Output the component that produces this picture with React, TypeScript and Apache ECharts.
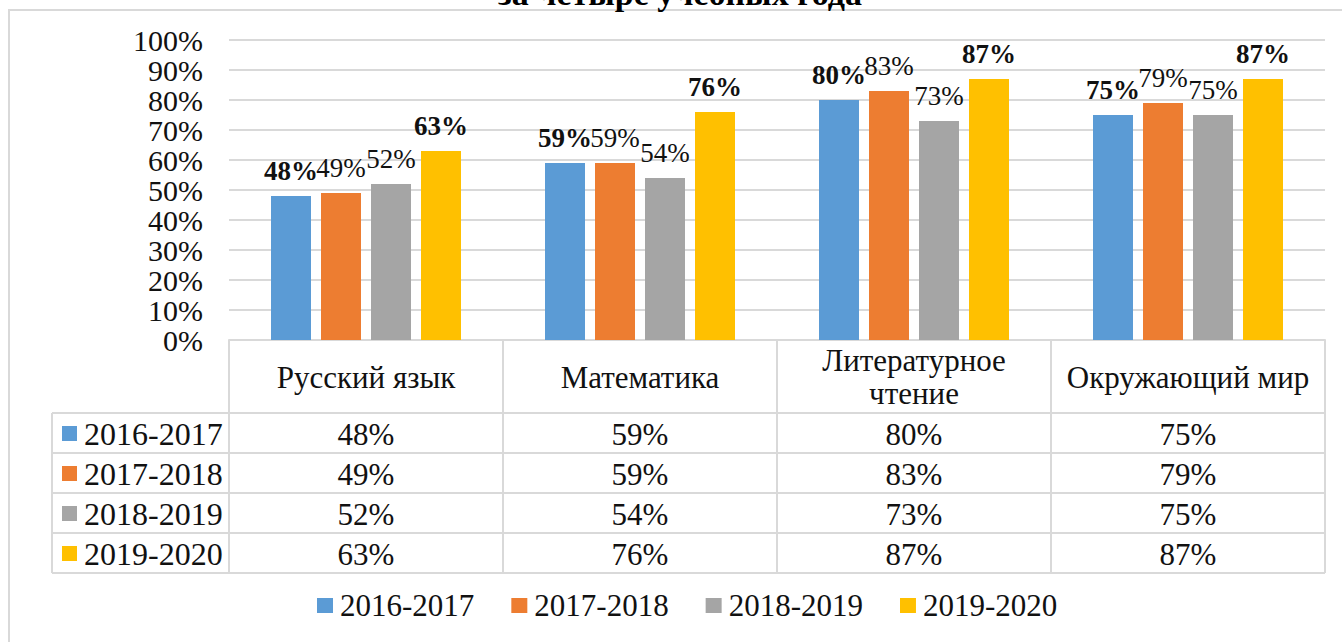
import React, { useEffect, useRef } from "react";
import * as echarts from "echarts";

const categories = ["Русский язык", "Математика", "Литературное чтение", "Окружающий мир"];
const seriesNames = ["2016-2017", "2017-2018", "2018-2019", "2019-2020"];
const s2016 = [48, 59, 80, 75];
const s2017 = [49, 59, 83, 79];
const s2018 = [52, 54, 73, 75];
const s2019 = [63, 76, 87, 87];
const colors = ["#5B9BD5", "#ED7D31", "#A5A5A5", "#FFC000"];
const yTicks = { min: 0, max: 100, interval: 10 };
const titleText = "за четыре учебных года";

const W = 1342;
const H = 642;
const FONT = "Liberation Serif";
const GRID_LEFT = 229;
const GRID_RIGHT = 1325;
const GRID_TOP = 40;
const GRID_BOTTOM = 340;
const TABLE_LEFT = 52;
const ROW_LINES = [413, 453, 493, 533, 573];
const LINE_COLOR = "#D9D9D9";

export default function App() {
  const ref = useRef<HTMLDivElement>(null);
  useEffect(() => {
    if (!ref.current) return;
    const chart = echarts.init(ref.current, undefined, { renderer: "svg" });
    const allSeries = [s2016, s2017, s2018, s2019];
    const colW = (GRID_RIGHT - GRID_LEFT) / categories.length;

    const graphics: any[] = [];
    graphics.push({
      type: "rect",
      shape: { x: 9, y: 10, width: 1400, height: 700 },
      style: { fill: "none", stroke: LINE_COLOR, lineWidth: 2 },
      silent: true,
      z: 0,
    });
    graphics.push({
      type: "text",
      x: 680,
      y: 10,
      style: {
        text: titleText,
        fontFamily: FONT,
        fontSize: 34,
        fontWeight: "bold",
        fill: "#000",
        align: "center",
        verticalAlign: "bottom",
      },
    });
    for (let i = 0; i <= categories.length; i++) {
      const x = GRID_LEFT + colW * i;
      graphics.push({
        type: "line",
        shape: { x1: x, y1: GRID_BOTTOM, x2: x, y2: ROW_LINES[ROW_LINES.length - 1] },
        style: { stroke: LINE_COLOR, lineWidth: 2 },
        silent: true,
      });
    }
    graphics.push({
      type: "line",
      shape: { x1: TABLE_LEFT, y1: ROW_LINES[0], x2: TABLE_LEFT, y2: ROW_LINES[ROW_LINES.length - 1] },
      style: { stroke: LINE_COLOR, lineWidth: 2 },
      silent: true,
    });
    ROW_LINES.forEach((y) => {
      graphics.push({
        type: "line",
        shape: { x1: TABLE_LEFT, y1: y, x2: GRID_RIGHT, y2: y },
        style: { stroke: LINE_COLOR, lineWidth: 2 },
        silent: true,
      });
    });
    seriesNames.forEach((name, r) => {
      const cy = (ROW_LINES[r] + ROW_LINES[r + 1]) / 2;
      graphics.push({
        type: "rect",
        shape: { x: 62, y: cy - 7, width: 15, height: 15 },
        style: { fill: colors[r] },
        silent: true,
      });
      graphics.push({
        type: "text",
        x: 84,
        y: cy + 1,
        style: {
          text: name,
          fontFamily: FONT,
          fontSize: 32,
          fill: "#111",
          align: "left",
          verticalAlign: "middle",
        },
      });
      allSeries[r].forEach((v, c) => {
        graphics.push({
          type: "text",
          x: GRID_LEFT + colW * (c + 0.5),
          y: cy + 1,
          style: {
            text: v + "%",
            fontFamily: FONT,
            fontSize: 31,
            fill: "#111",
            align: "center",
            verticalAlign: "middle",
          },
        });
      });
    });

    const option: any = {
      animation: false,
      textStyle: { fontFamily: FONT },
      grid: {
        left: GRID_LEFT,
        right: W - GRID_RIGHT,
        top: GRID_TOP,
        bottom: H - GRID_BOTTOM,
        containLabel: false,
      },
      legend: {
        data: seriesNames,
        bottom: 16,
        left: 312,
        icon: "rect",
        itemWidth: 16,
        itemHeight: 15,
        itemGap: 37,
        textStyle: { fontFamily: FONT, fontSize: 31, color: "#111", padding: [0, 0, 0, 2] },
      },
      xAxis: {
        type: "category",
        data: categories,
        axisLine: { show: true, lineStyle: { color: LINE_COLOR, width: 2 } },
        axisTick: { show: false },
        axisLabel: {
          interval: 0,
          margin: 37,
          verticalAlign: "middle",
          fontFamily: FONT,
          fontSize: 31,
          color: "#111",
          lineHeight: 33,
          formatter: (v: string) => (v.length > 16 ? v.replace(" ", "\n") : v),
        },
      },
      yAxis: {
        type: "value",
        min: yTicks.min,
        max: yTicks.max,
        interval: yTicks.interval,
        axisLine: { show: false },
        axisTick: { show: false },
        splitLine: { lineStyle: { color: LINE_COLOR, width: 2 } },
        axisLabel: {
          formatter: (v: number) => v + "%",
          fontFamily: FONT,
          fontSize: 30,
          lineHeight: 30,
          showMinLabel: true,
          showMaxLabel: true,
          hideOverlap: false,
          color: "#111",
          margin: 26,
        },
      },
      series: seriesNames.map((name, i) => ({
        type: "bar",
        name,
        data: allSeries[i],
        barWidth: 40,
        barGap: "25%",
        itemStyle: { color: colors[i] },
        label: {
          show: true,
          position: "top",
          distance: 12,
          formatter: "{c}%",
          fontFamily: FONT,
          fontSize: 27,
          fontWeight: i === 0 || i === 3 ? "bold" : "normal",
          color: "#111",
        },
      })),
      graphic: graphics,
    };
    chart.setOption(option);
    return () => chart.dispose();
  }, []);
  return (
    <div
      ref={ref}
      style={{ position: "fixed", left: 0, top: 0, width: W, height: H, background: "#fff" }}
    />
  );
}
